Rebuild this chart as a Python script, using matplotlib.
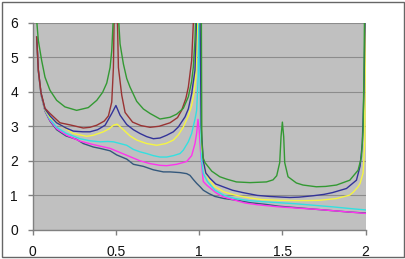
import matplotlib
matplotlib.use('Agg')
import matplotlib.pyplot as plt
from matplotlib.patches import Rectangle

# Series (x, y pairs per curve)
green_x = [0.024, 0.034, 0.054, 0.074, 0.104, 0.144, 0.194, 0.264, 0.334, 0.385, 0.42, 0.445,
           0.465, 0.475, 0.484, 0.49, 0.51, 0.516, 0.525, 0.545, 0.565, 0.585, 0.625, 0.665,
           0.705, 0.765, 0.825, 0.865, 0.905, 0.935, 0.955, 0.965, 0.975, 0.98, 0.99, 1.012,
           1.016, 1.023, 1.035, 1.076, 1.124, 1.166, 1.224, 1.306, 1.404, 1.444, 1.466, 1.484,
           1.492, 1.5, 1.508, 1.514, 1.534, 1.584, 1.624, 1.704, 1.76, 1.825, 1.905, 1.955,
           1.975, 1.985, 1.99, 1.995]
green_y = [6.06, 5.48, 4.9, 4.42, 4.04, 3.75, 3.56, 3.46, 3.54, 3.75, 3.98, 4.25,
           4.7, 5.19, 6.1, 8, 8, 6.1, 5.38, 4.8, 4.38, 4.13, 3.72, 3.5,
           3.37, 3.21, 3.26, 3.35, 3.52, 3.85, 4.3, 4.71, 5.5, 6.2, 8, 8,
           2.6, 2.1, 1.95, 1.7, 1.54, 1.47, 1.39, 1.37, 1.39, 1.45, 1.57, 1.95,
           2.7, 3.12, 2.7, 1.95, 1.54, 1.36, 1.30, 1.25, 1.26, 1.30, 1.44, 1.73,
           2.11, 2.9, 4.5, 7]

brown_x = [0.024, 0.034, 0.05, 0.074, 0.104, 0.164, 0.224, 0.304, 0.344, 0.385, 0.43, 0.455,
           0.475, 0.485, 0.492, 0.505, 0.515, 0.535, 0.555, 0.6, 0.65, 0.705, 0.76, 0.825,
           0.87, 0.895, 0.92, 0.935, 0.955, 0.97, 0.99]
brown_y = [5.58, 4.62, 3.97, 3.52, 3.37, 3.1, 3.04, 2.95, 2.97, 3.03, 3.15, 3.3,
           3.7, 4.7, 7, 7, 4.7, 3.9, 3.4, 3.12, 3.02, 2.97, 3.0, 3.1,
           3.25, 3.46, 3.8, 4.13, 4.9, 6.5, 8]

navy_x = [0.024, 0.034, 0.05, 0.074, 0.104, 0.144, 0.2, 0.244, 0.3, 0.344, 0.39, 0.435,
          0.475, 0.5, 0.525, 0.565, 0.605, 0.645, 0.685, 0.725, 0.765, 0.805, 0.845, 0.875,
          0.915, 0.935, 0.955, 0.975, 0.985, 1.0, 1.012, 1.025, 1.04, 1.064, 1.1, 1.144,
          1.2, 1.264, 1.35, 1.424, 1.5, 1.545, 1.6, 1.684, 1.75, 1.8, 1.885, 1.945,
          1.967, 1.98, 1.99, 2.0]
navy_y = [5.58, 4.62, 3.96, 3.5, 3.3, 3.1, 2.95, 2.86, 2.84, 2.84, 2.9, 3.03,
          3.37, 3.6, 3.32, 3.05, 2.9, 2.79, 2.7, 2.64, 2.66, 2.74, 2.84, 2.98,
          3.27, 3.5, 3.94, 4.62, 6.2, 9, 3.0, 2.0, 1.65, 1.5, 1.33, 1.25,
          1.15, 1.08, 1.0, 0.97, 0.95, 0.94, 0.95, 0.99, 1.03, 1.08, 1.2, 1.44,
          1.85, 2.5, 4.0, 7]

yellow_x = [0.024, 0.034, 0.05, 0.074, 0.104, 0.164, 0.244, 0.324, 0.364, 0.425, 0.46, 0.485,
            0.508, 0.545, 0.585, 0.625, 0.685, 0.745, 0.8, 0.845, 0.875, 0.905, 0.935, 0.955,
            0.97, 0.98, 0.99, 1.0, 1.015, 1.035, 1.06, 1.095, 1.15, 1.216, 1.3, 1.376,
            1.476, 1.576, 1.65, 1.727, 1.825, 1.905, 1.927, 1.955, 1.967, 1.985, 1.995, 2.0]
yellow_y = [5.58, 4.62, 3.95, 3.48, 3.25, 3.05, 2.79, 2.71, 2.74, 2.84, 2.93, 3.03,
            3.06, 2.9, 2.72, 2.6, 2.5, 2.45, 2.5, 2.6, 2.75, 2.98, 3.3, 3.6,
            4.0, 4.42, 6.0, 9, 2.4, 1.73, 1.45, 1.25, 1.1, 1.01, 0.93, 0.88,
            0.86, 0.85, 0.85, 0.86, 0.91, 1.01, 1.1, 1.25, 1.35, 1.65, 2.5, 7]

cyan_x = [0.024, 0.034, 0.05, 0.074, 0.104, 0.144, 0.2, 0.284, 0.345, 0.405, 0.45, 0.485,
          0.525, 0.565, 0.605, 0.645, 0.685, 0.725, 0.765, 0.805, 0.845, 0.885, 0.905, 0.935,
          0.955, 0.965, 0.975, 0.985, 0.995, 1.0, 1.008, 1.015, 1.025, 1.05, 1.095, 1.15,
          1.216, 1.3, 1.376, 1.476, 1.576, 1.7, 1.8, 1.865, 1.93, 2.0]
cyan_y = [5.58, 4.62, 3.94, 3.47, 3.2, 2.97, 2.8, 2.64, 2.58, 2.55, 2.56, 2.55,
          2.5, 2.45, 2.33, 2.26, 2.21, 2.15, 2.11, 2.11, 2.15, 2.21, 2.31, 2.55,
          2.79, 3.0, 3.2, 3.46, 4.5, 8, 3.0, 2.0, 1.63, 1.4, 1.15, 1.0,
          0.91, 0.85, 0.82, 0.79, 0.76, 0.71, 0.67, 0.64, 0.61, 0.58]

magenta_x = [0.024, 0.034, 0.05, 0.074, 0.104, 0.144, 0.204, 0.284, 0.364, 0.465, 0.565, 0.645,
             0.705, 0.765, 0.805, 0.865, 0.925, 0.955, 0.975, 0.985, 0.993, 1.0, 1.008, 1.016,
             1.025, 1.045, 1.065, 1.1, 1.136, 1.166, 1.23, 1.276, 1.35, 1.476, 1.6, 1.697,
             1.8, 1.9, 2.0]
magenta_y = [5.58, 4.62, 3.94, 3.46, 3.17, 2.93, 2.74, 2.57, 2.47, 2.36, 2.16, 2.0,
             1.92, 1.87, 1.86, 1.9, 1.98, 2.15, 2.5, 2.8, 3.2, 2.9, 2.3, 1.83,
             1.4, 1.3, 1.22, 1.08, 0.98, 0.93, 0.84, 0.78, 0.73, 0.67, 0.63, 0.6,
             0.56, 0.52, 0.48]

slate_x = [0.024, 0.034, 0.05, 0.074, 0.104, 0.144, 0.2, 0.264, 0.304, 0.364, 0.405, 0.465,
           0.505, 0.565, 0.605, 0.665, 0.725, 0.785, 0.825, 0.885, 0.925, 0.945, 0.965, 0.985,
           1.006, 1.025, 1.06, 1.095, 1.15, 1.226, 1.306, 1.4, 1.476, 1.6, 1.697, 1.8,
           1.9, 2.0]
slate_y = [5.56, 4.6, 3.92, 3.44, 3.15, 2.9, 2.72, 2.62, 2.5, 2.4, 2.36, 2.29,
           2.17, 2.05, 1.9, 1.84, 1.74, 1.68, 1.68, 1.66, 1.63, 1.58, 1.46, 1.35,
           1.25, 1.15, 1.05, 0.97, 0.91, 0.86, 0.79, 0.74, 0.69, 0.64, 0.6, 0.56,
           0.52, 0.49]

x_ticks = [0, 0.5, 1, 1.5, 2]
x_labels = ['0', '0.5', '1', '1.5', '2']
y_ticks = [0, 1, 2, 3, 4, 5, 6]

series = [
    (slate_x, slate_y, '#34587c'),
    (magenta_x, magenta_y, '#ff33ee'),
    (cyan_x, cyan_y, '#33e0e0'),
    (yellow_x, yellow_y, '#f5f542'),
    (navy_x, navy_y, '#333399'),
    (brown_x, brown_y, '#993333'),
    (green_x, green_y, '#339933'),
]

plt.rcParams['font.family'] = ['Liberation Sans', 'DejaVu Sans']

fig = plt.figure(figsize=(4.06, 2.59), dpi=100)
fig.patch.set_facecolor('white')
fig.patches.append(Rectangle((0.005, 0.008), 0.99, 0.984, transform=fig.transFigure,
                             fill=False, edgecolor='#666666', linewidth=1.0))

ax = fig.add_axes([0.0805, 0.112, 0.820, 0.801])
ax.set_facecolor('#c0c0c0')

for xs, ys, col in series:
    ax.plot(xs, ys, color=col, linewidth=1.0)

ax.set_xlim(0, 2)
ax.set_ylim(0, 6)
ax.set_xticks(x_ticks)
ax.set_xticklabels(x_labels)
ax.set_yticks(y_ticks)
ax.yaxis.grid(True, color='#8c8c8c', linewidth=0.8)
ax.set_axisbelow(True)

for side in ['top', 'right']:
    ax.spines[side].set_visible(False)
for side in ['left', 'bottom']:
    ax.spines[side].set_color('#808080')
    ax.spines[side].set_linewidth(1.0)

ax.tick_params(axis='both', direction='out', length=3.5, width=1.0, color='#808080',
               labelsize=10, labelcolor='#111111')
ax.tick_params(axis='x', pad=7)
ax.tick_params(axis='y', pad=7)

fig.savefig('out.png', dpi=100, facecolor='white')
